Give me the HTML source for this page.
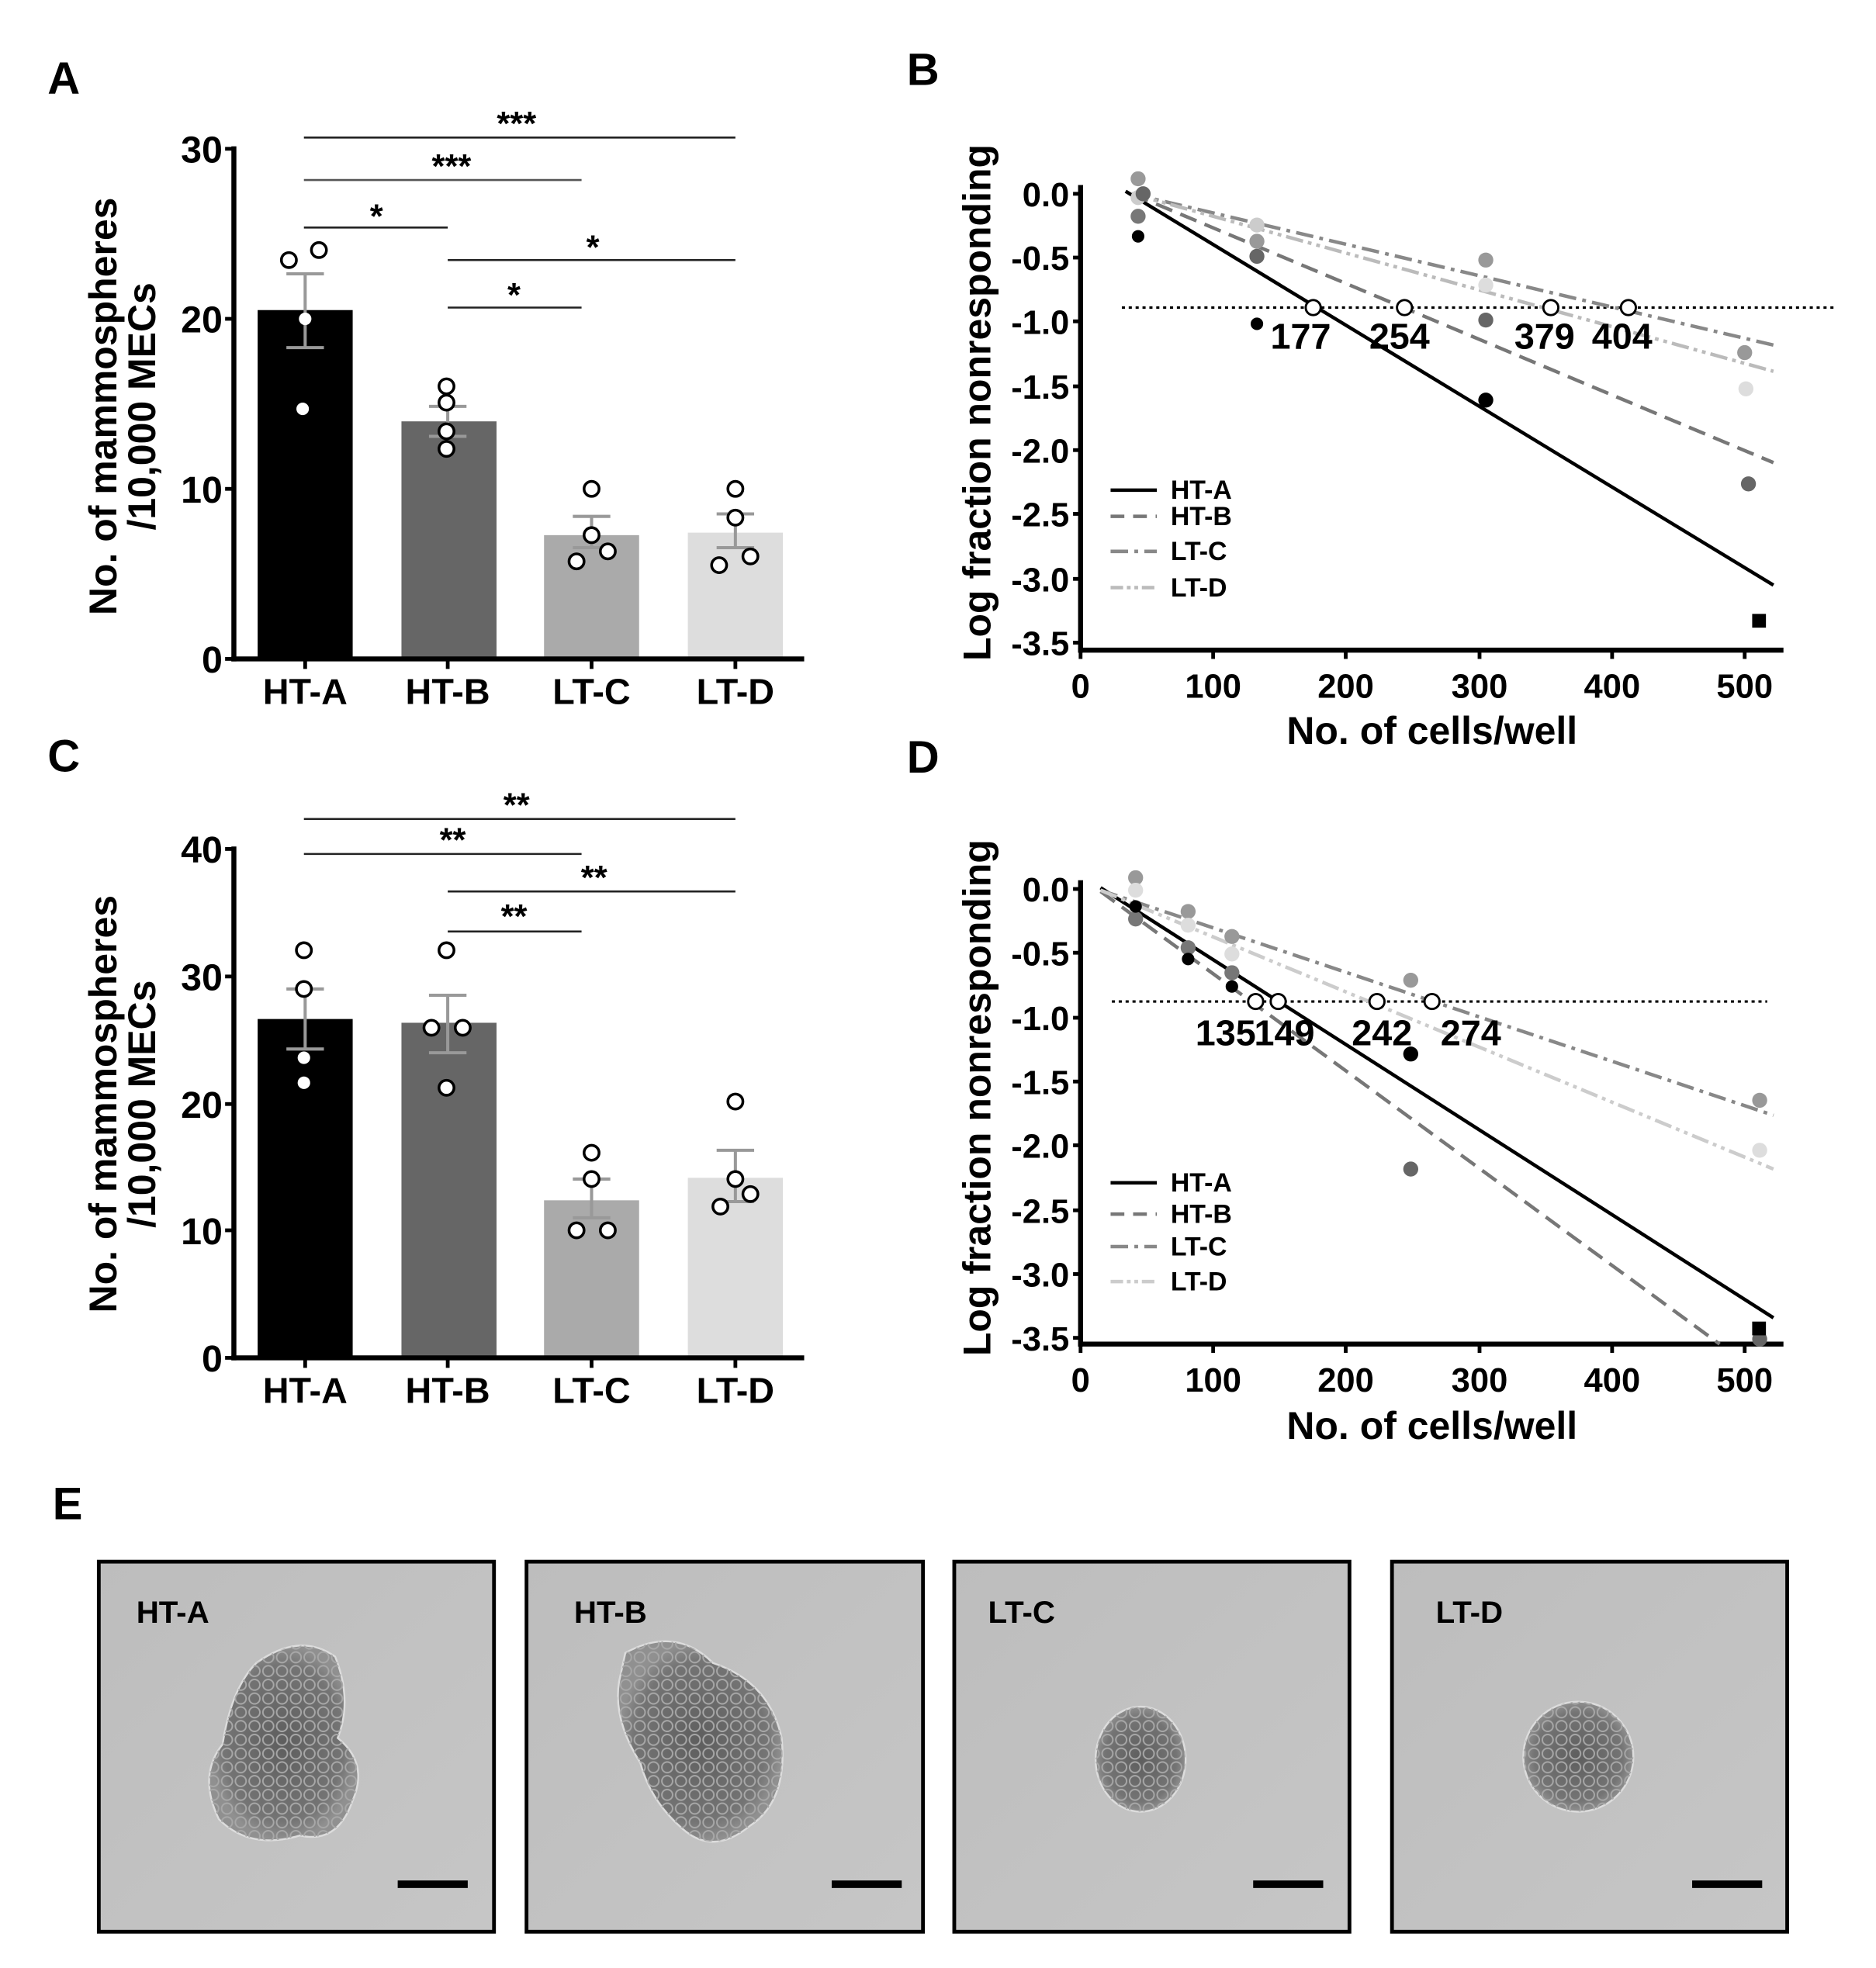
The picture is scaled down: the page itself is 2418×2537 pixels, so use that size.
<!DOCTYPE html>
<html><head><meta charset="utf-8"><style>
html,body{margin:0;padding:0;background:#fff;}
svg{display:block;}
text{font-family:"Liberation Sans",Arial,sans-serif;font-weight:bold;fill:#000;}
</style></head><body>
<svg width="2418" height="2537" viewBox="0 0 1500 1574" preserveAspectRatio="none" xmlns="http://www.w3.org/2000/svg">
<defs>
<radialGradient id="blob" cx="50%" cy="50%" r="50%">
<stop offset="0" stop-color="#5e5e5e"/><stop offset="0.8" stop-color="#747474"/><stop offset="1" stop-color="#909090"/>
</radialGradient>
<pattern id="cells" width="11" height="11" patternUnits="userSpaceOnUse">
<circle cx="5.5" cy="5.5" r="4.3" fill="none" stroke="#a8a8a8" stroke-width="1.2"/>
</pattern>
<linearGradient id="bg" x1="0" y1="0" x2="1" y2="1"><stop offset="0" stop-color="#bdbdbd"/><stop offset="1" stop-color="#c6c6c6"/></linearGradient>
</defs>

<text x="38" y="75" font-size="36">A</text>
<text x="725" y="68" font-size="36">B</text>
<text x="38" y="617" font-size="36">C</text>
<text x="725" y="618" font-size="36">D</text>
<text x="42" y="1215" font-size="36">E</text>

<!-- ===== Panel A ===== -->
<g>
<rect x="206" y="248" width="76" height="279" fill="#000"/>
<rect x="321" y="337" width="76" height="190" fill="#666"/>
<rect x="435" y="428" width="76" height="99" fill="#aaa"/>
<rect x="550" y="426" width="76" height="101" fill="#ddd"/>
<line x1="187" y1="117" x2="187" y2="529" stroke="#000" stroke-width="4"/>
<line x1="185" y1="527" x2="643" y2="527" stroke="#000" stroke-width="4"/>
<g stroke="#000" stroke-width="3">
<line x1="180" y1="119" x2="187" y2="119"/><line x1="180" y1="255" x2="187" y2="255"/><line x1="180" y1="391" x2="187" y2="391"/><line x1="180" y1="527" x2="187" y2="527"/>
<line x1="244" y1="527" x2="244" y2="535"/><line x1="358" y1="527" x2="358" y2="535"/><line x1="473" y1="527" x2="473" y2="535"/><line x1="588" y1="527" x2="588" y2="535"/>
</g>
<g font-size="30" text-anchor="end">
<text x="178" y="130">30</text><text x="178" y="266">20</text><text x="178" y="402">10</text><text x="178" y="538">0</text>
</g>
<g font-size="29" text-anchor="middle">
<text x="244" y="563">HT-A</text><text x="358" y="563">HT-B</text><text x="473" y="563">LT-C</text><text x="588" y="563">LT-D</text>
</g>
<g font-size="31" text-anchor="middle">
<text transform="translate(93,325) rotate(-90)">No. of mammospheres</text>
<text transform="translate(124,325) rotate(-90)">/10,000 MECs</text>
</g>
<g stroke="#999" stroke-width="2.5" fill="none">
<path d="M244 278V219M229 278H259M229 219H259"/>
<path d="M358 349V325M343 349H373M343 325H373"/>
<path d="M473 438V413M458 438H488M458 413H488"/>
<path d="M588 438V411M573 438H603M573 411H603"/>
</g>
<g fill="#fff" stroke="#000" stroke-width="2.2">
<circle cx="231" cy="208" r="6"/><circle cx="255" cy="200" r="6"/><circle cx="244" cy="255" r="5" stroke="none"/><circle cx="242" cy="327" r="5" stroke="none"/>
<circle cx="357" cy="309" r="6"/><circle cx="357" cy="322" r="6"/><circle cx="357" cy="345" r="6"/><circle cx="357" cy="359" r="6"/>
<circle cx="473" cy="391" r="6"/><circle cx="473" cy="428" r="6"/><circle cx="486" cy="441" r="6"/><circle cx="461" cy="449" r="6"/>
<circle cx="588" cy="391" r="6"/><circle cx="588" cy="414" r="6"/><circle cx="600" cy="445" r="6"/><circle cx="575" cy="452" r="6"/>
</g>
<g stroke="#222" stroke-width="1.6">
<line x1="243" y1="110" x2="588" y2="110"/>
<line x1="243" y1="144" x2="465" y2="144" stroke="#555"/>
<line x1="243" y1="182" x2="358" y2="182"/>
<line x1="358" y1="208" x2="588" y2="208"/>
<line x1="358" y1="246" x2="465" y2="246"/>
</g>
<g font-size="27" text-anchor="middle">
<text x="413" y="108">***</text><text x="361" y="142">***</text><text x="301" y="182">*</text><text x="474" y="207">*</text><text x="411" y="245">*</text>
</g>
</g>

<!-- ===== Panel C ===== -->
<g>
<rect x="206" y="815" width="76" height="271" fill="#000"/>
<rect x="321" y="818" width="76" height="268" fill="#666"/>
<rect x="435" y="960" width="76" height="126" fill="#aaa"/>
<rect x="550" y="942" width="76" height="144" fill="#ddd"/>
<line x1="187" y1="677" x2="187" y2="1088" stroke="#000" stroke-width="4"/>
<line x1="185" y1="1086" x2="643" y2="1086" stroke="#000" stroke-width="4"/>
<g stroke="#000" stroke-width="3">
<line x1="180" y1="679" x2="187" y2="679"/><line x1="180" y1="781" x2="187" y2="781"/><line x1="180" y1="883" x2="187" y2="883"/><line x1="180" y1="984" x2="187" y2="984"/><line x1="180" y1="1086" x2="187" y2="1086"/>
<line x1="244" y1="1086" x2="244" y2="1094"/><line x1="358" y1="1086" x2="358" y2="1094"/><line x1="473" y1="1086" x2="473" y2="1094"/><line x1="588" y1="1086" x2="588" y2="1094"/>
</g>
<g font-size="30" text-anchor="end">
<text x="178" y="690">40</text><text x="178" y="792">30</text><text x="178" y="894">20</text><text x="178" y="995">10</text><text x="178" y="1097">0</text>
</g>
<g font-size="29" text-anchor="middle">
<text x="244" y="1122">HT-A</text><text x="358" y="1122">HT-B</text><text x="473" y="1122">LT-C</text><text x="588" y="1122">LT-D</text>
</g>
<g font-size="31" text-anchor="middle">
<text transform="translate(93,883) rotate(-90)">No. of mammospheres</text>
<text transform="translate(124,883) rotate(-90)">/10,000 MECs</text>
</g>
<g stroke="#999" stroke-width="2.5" fill="none">
<path d="M244 839V791M229 839H259M229 791H259"/>
<path d="M358 842V796M343 842H373M343 796H373"/>
<path d="M473 974V943M458 974H488M458 943H488"/>
<path d="M588 961V920M573 961H603M573 920H603"/>
</g>
<g fill="#fff" stroke="#000" stroke-width="2.2">
<circle cx="243" cy="760" r="6"/><circle cx="243" cy="791" r="6"/><circle cx="243" cy="846" r="5" stroke="none"/><circle cx="243" cy="866" r="5" stroke="none"/>
<circle cx="357" cy="760" r="6"/><circle cx="345" cy="822" r="6"/><circle cx="370" cy="822" r="6"/><circle cx="357" cy="870" r="6"/>
<circle cx="473" cy="922" r="6"/><circle cx="473" cy="943" r="6"/><circle cx="461" cy="984" r="6"/><circle cx="486" cy="984" r="6"/>
<circle cx="588" cy="881" r="6"/><circle cx="588" cy="943" r="6"/><circle cx="576" cy="965" r="6"/><circle cx="600" cy="955" r="6"/>
</g>
<g stroke="#222" stroke-width="1.6">
<line x1="243" y1="655" x2="588" y2="655"/>
<line x1="243" y1="683" x2="465" y2="683"/>
<line x1="358" y1="713" x2="588" y2="713"/>
<line x1="358" y1="745" x2="465" y2="745"/>
</g>
<g font-size="27" text-anchor="middle">
<text x="413" y="653">**</text><text x="362" y="681">**</text><text x="475" y="711">**</text><text x="411" y="742">**</text>
</g>
</g>

<!-- ===== Panel B ===== -->
<g>
<line x1="864" y1="148" x2="864" y2="522" stroke="#000" stroke-width="4"/>
<line x1="862" y1="520" x2="1426" y2="520" stroke="#000" stroke-width="4"/>
<g stroke="#000" stroke-width="3">
<line x1="858" y1="155" x2="864" y2="155"/><line x1="858" y1="206" x2="864" y2="206"/><line x1="858" y1="257" x2="864" y2="257"/><line x1="858" y1="309" x2="864" y2="309"/><line x1="858" y1="360" x2="864" y2="360"/><line x1="858" y1="411" x2="864" y2="411"/><line x1="858" y1="463" x2="864" y2="463"/><line x1="858" y1="514" x2="864" y2="514"/>
<line x1="864" y1="520" x2="864" y2="527"/><line x1="970" y1="520" x2="970" y2="527"/><line x1="1076" y1="520" x2="1076" y2="527"/><line x1="1183" y1="520" x2="1183" y2="527"/><line x1="1289" y1="520" x2="1289" y2="527"/><line x1="1395" y1="520" x2="1395" y2="527"/>
</g>
<g font-size="27" text-anchor="end">
<text x="855" y="165">0.0</text><text x="855" y="216">-0.5</text><text x="855" y="267">-1.0</text><text x="855" y="319">-1.5</text><text x="855" y="370">-2.0</text><text x="855" y="421">-2.5</text><text x="855" y="473">-3.0</text><text x="855" y="524">-3.5</text>
</g>
<g font-size="27" text-anchor="middle">
<text x="864" y="558">0</text><text x="970" y="558">100</text><text x="1076" y="558">200</text><text x="1183" y="558">300</text><text x="1289" y="558">400</text><text x="1395" y="558">500</text>
</g>
<text x="1145" y="595" font-size="31" text-anchor="middle">No. of cells/well</text>
<text transform="translate(792,322) rotate(-90)" font-size="31" text-anchor="middle">Log fraction nonresponding</text>
<line x1="897" y1="246" x2="1468" y2="246" stroke="#000" stroke-width="2" stroke-dasharray="2.5,3"/>
<line x1="900" y1="153" x2="1418" y2="468" stroke="#000" stroke-width="2.8"/>
<line x1="905" y1="155" x2="1418" y2="370" stroke="#777" stroke-width="2.8" stroke-dasharray="14,7"/>
<line x1="905" y1="155" x2="1418" y2="276" stroke="#888" stroke-width="2.8" stroke-dasharray="14,5,3,5"/>
<line x1="905" y1="155" x2="1418" y2="297" stroke="#bbb" stroke-width="2.8" stroke-dasharray="14,4,3,4,3,4"/>
<g fill="#fff" stroke="#000" stroke-width="1.8">
<circle cx="1050" cy="246" r="6"/><circle cx="1123" cy="246" r="6"/><circle cx="1240" cy="246" r="6"/><circle cx="1302" cy="246" r="6"/>
</g>
<g font-size="29" text-anchor="middle">
<text x="1040" y="279">177</text><text x="1119" y="279">254</text><text x="1235" y="279">379</text><text x="1297" y="279">404</text>
</g>
<g>
<circle cx="910" cy="143" r="6" fill="#999"/><circle cx="1005" cy="193" r="6" fill="#999"/><circle cx="1188" cy="208" r="6" fill="#999"/><circle cx="1395" cy="282" r="6" fill="#999"/>
<circle cx="910" cy="158" r="6" fill="#ccc"/><circle cx="1005" cy="180" r="6" fill="#ccc"/><circle cx="1188" cy="228" r="6" fill="#ddd"/><circle cx="1396" cy="311" r="6" fill="#ddd"/>
<circle cx="914" cy="155" r="6" fill="#666"/><circle cx="910" cy="173" r="6" fill="#777"/><circle cx="1005" cy="205" r="6" fill="#666"/><circle cx="1188" cy="256" r="6" fill="#666"/><circle cx="1398" cy="387" r="6" fill="#666"/>
<circle cx="910" cy="189" r="5" fill="#000"/><circle cx="1005" cy="259" r="5" fill="#000"/><circle cx="1188" cy="320" r="6" fill="#000"/>
<rect x="1401" y="491" width="11" height="11" fill="#000"/>
</g>
<g stroke-width="2.8">
<line x1="888" y1="392" x2="925" y2="392" stroke="#000"/>
<line x1="888" y1="413" x2="925" y2="413" stroke="#777" stroke-dasharray="11,7"/>
<line x1="888" y1="441" x2="925" y2="441" stroke="#888" stroke-dasharray="14,5,3,5"/>
<line x1="888" y1="470" x2="925" y2="470" stroke="#bbb" stroke-dasharray="10,3,3,3,3,3"/>
</g>
<g font-size="21">
<text x="936" y="399">HT-A</text><text x="936" y="420">HT-B</text><text x="936" y="448">LT-C</text><text x="936" y="477">LT-D</text>
</g>
</g>

<!-- ===== Panel D ===== -->
<g>
<line x1="864" y1="704" x2="864" y2="1077" stroke="#000" stroke-width="4"/>
<line x1="862" y1="1075" x2="1426" y2="1075" stroke="#000" stroke-width="4"/>
<g stroke="#000" stroke-width="3">
<line x1="858" y1="711" x2="864" y2="711"/><line x1="858" y1="762" x2="864" y2="762"/><line x1="858" y1="814" x2="864" y2="814"/><line x1="858" y1="865" x2="864" y2="865"/><line x1="858" y1="916" x2="864" y2="916"/><line x1="858" y1="968" x2="864" y2="968"/><line x1="858" y1="1019" x2="864" y2="1019"/><line x1="858" y1="1070" x2="864" y2="1070"/>
<line x1="864" y1="1075" x2="864" y2="1082"/><line x1="970" y1="1075" x2="970" y2="1082"/><line x1="1076" y1="1075" x2="1076" y2="1082"/><line x1="1183" y1="1075" x2="1183" y2="1082"/><line x1="1289" y1="1075" x2="1289" y2="1082"/><line x1="1395" y1="1075" x2="1395" y2="1082"/>
</g>
<g font-size="27" text-anchor="end">
<text x="855" y="721">0.0</text><text x="855" y="772">-0.5</text><text x="855" y="824">-1.0</text><text x="855" y="875">-1.5</text><text x="855" y="926">-2.0</text><text x="855" y="978">-2.5</text><text x="855" y="1029">-3.0</text><text x="855" y="1080">-3.5</text>
</g>
<g font-size="27" text-anchor="middle">
<text x="864" y="1113">0</text><text x="970" y="1113">100</text><text x="1076" y="1113">200</text><text x="1183" y="1113">300</text><text x="1289" y="1113">400</text><text x="1395" y="1113">500</text>
</g>
<text x="1145" y="1151" font-size="31" text-anchor="middle">No. of cells/well</text>
<text transform="translate(792,878) rotate(-90)" font-size="31" text-anchor="middle">Log fraction nonresponding</text>
<line x1="889" y1="801" x2="1413" y2="801" stroke="#000" stroke-width="2" stroke-dasharray="2.5,3"/>
<line x1="880" y1="710" x2="1418" y2="1054" stroke="#000" stroke-width="2.8"/>
<line x1="880" y1="713" x2="1375" y2="1075" stroke="#777" stroke-width="2.8" stroke-dasharray="14,7"/>
<line x1="880" y1="712" x2="1418" y2="892" stroke="#888" stroke-width="2.8" stroke-dasharray="14,5,3,5"/>
<line x1="880" y1="712" x2="1418" y2="935" stroke="#ccc" stroke-width="2.8" stroke-dasharray="14,4,3,4,3,4"/>
<g fill="#fff" stroke="#000" stroke-width="1.8">
<circle cx="1004" cy="801" r="6"/><circle cx="1022" cy="801" r="6"/><circle cx="1101" cy="801" r="6"/><circle cx="1145" cy="801" r="6"/>
</g>
<g font-size="29" text-anchor="middle">
<text x="980" y="836">135</text><text x="1027" y="836">149</text><text x="1105" y="836">242</text><text x="1176" y="836">274</text>
</g>
<g>
<circle cx="908" cy="702" r="6" fill="#999"/><circle cx="950" cy="729" r="6" fill="#999"/><circle cx="985" cy="749" r="6" fill="#999"/><circle cx="1128" cy="784" r="6" fill="#999"/><circle cx="1407" cy="880" r="6" fill="#999"/>
<circle cx="908" cy="712" r="6" fill="#ddd"/><circle cx="950" cy="740" r="6" fill="#ddd"/><circle cx="985" cy="763" r="6" fill="#ddd"/><circle cx="1407" cy="920" r="6" fill="#ddd"/>
<circle cx="908" cy="735" r="6" fill="#777"/><circle cx="950" cy="758" r="6" fill="#777"/><circle cx="985" cy="778" r="6" fill="#777"/><circle cx="1128" cy="935" r="6" fill="#666"/><circle cx="1407" cy="1071" r="6" fill="#666"/>
<circle cx="908" cy="725" r="5" fill="#000"/><circle cx="950" cy="767" r="5" fill="#000"/><circle cx="985" cy="789" r="5" fill="#000"/><circle cx="1128" cy="843" r="6" fill="#000"/>
<rect x="1401" y="1057" width="11" height="11" fill="#000"/>
</g>
<g stroke-width="2.8">
<line x1="888" y1="946" x2="925" y2="946" stroke="#000"/>
<line x1="888" y1="971" x2="925" y2="971" stroke="#777" stroke-dasharray="11,7"/>
<line x1="888" y1="997" x2="925" y2="997" stroke="#888" stroke-dasharray="14,5,3,5"/>
<line x1="888" y1="1025" x2="925" y2="1025" stroke="#ccc" stroke-dasharray="10,3,3,3,3,3"/>
</g>
<g font-size="21">
<text x="936" y="953">HT-A</text><text x="936" y="978">HT-B</text><text x="936" y="1004">LT-C</text><text x="936" y="1032">LT-D</text>
</g>
</g>

<!-- ===== Panel E ===== -->
<g>
<rect x="79" y="1249" width="316" height="296" fill="url(#bg)" stroke="#000" stroke-width="3"/>
<rect x="421" y="1249" width="317" height="296" fill="url(#bg)" stroke="#000" stroke-width="3"/>
<rect x="763" y="1249" width="316" height="296" fill="url(#bg)" stroke="#000" stroke-width="3"/>
<rect x="1113" y="1249" width="316" height="296" fill="url(#bg)" stroke="#000" stroke-width="3"/>

<path d="M205 1330 Q240 1305 268 1325 Q282 1360 270 1390 Q295 1410 282 1440 Q270 1475 240 1468 Q200 1480 175 1455 Q158 1420 178 1395 Q185 1350 205 1330Z" fill="url(#blob)" stroke="#ddd" stroke-width="1.5"/>
<path d="M205 1330 Q240 1305 268 1325 Q282 1360 270 1390 Q295 1410 282 1440 Q270 1475 240 1468 Q200 1480 175 1455 Q158 1420 178 1395 Q185 1350 205 1330Z" fill="url(#cells)"/>

<path d="M500 1322 Q540 1300 570 1330 Q615 1345 625 1390 Q630 1440 600 1460 Q570 1485 545 1462 Q520 1440 512 1410 Q490 1375 495 1345Z" fill="url(#blob)" stroke="#ddd" stroke-width="1.5"/>
<path d="M500 1322 Q540 1300 570 1330 Q615 1345 625 1390 Q630 1440 600 1460 Q570 1485 545 1462 Q520 1440 512 1410 Q490 1375 495 1345Z" fill="url(#cells)"/>

<ellipse cx="912" cy="1407" rx="36" ry="42" fill="url(#blob)" stroke="#ddd" stroke-width="1.5"/>
<ellipse cx="912" cy="1407" rx="36" ry="42" fill="url(#cells)"/>

<ellipse cx="1262" cy="1405" rx="44" ry="44" fill="url(#blob)" stroke="#ddd" stroke-width="1.5"/>
<ellipse cx="1262" cy="1405" rx="44" ry="44" fill="url(#cells)"/>

<g font-size="25">
<text x="109" y="1298">HT-A</text><text x="459" y="1298">HT-B</text><text x="790" y="1298">LT-C</text><text x="1148" y="1298">LT-D</text>
</g>
<g fill="#000">
<rect x="318" y="1504" width="56" height="6"/><rect x="665" y="1504" width="56" height="6"/><rect x="1002" y="1504" width="56" height="6"/><rect x="1353" y="1504" width="56" height="6"/>
</g>
</g>
</svg>
</body></html>
